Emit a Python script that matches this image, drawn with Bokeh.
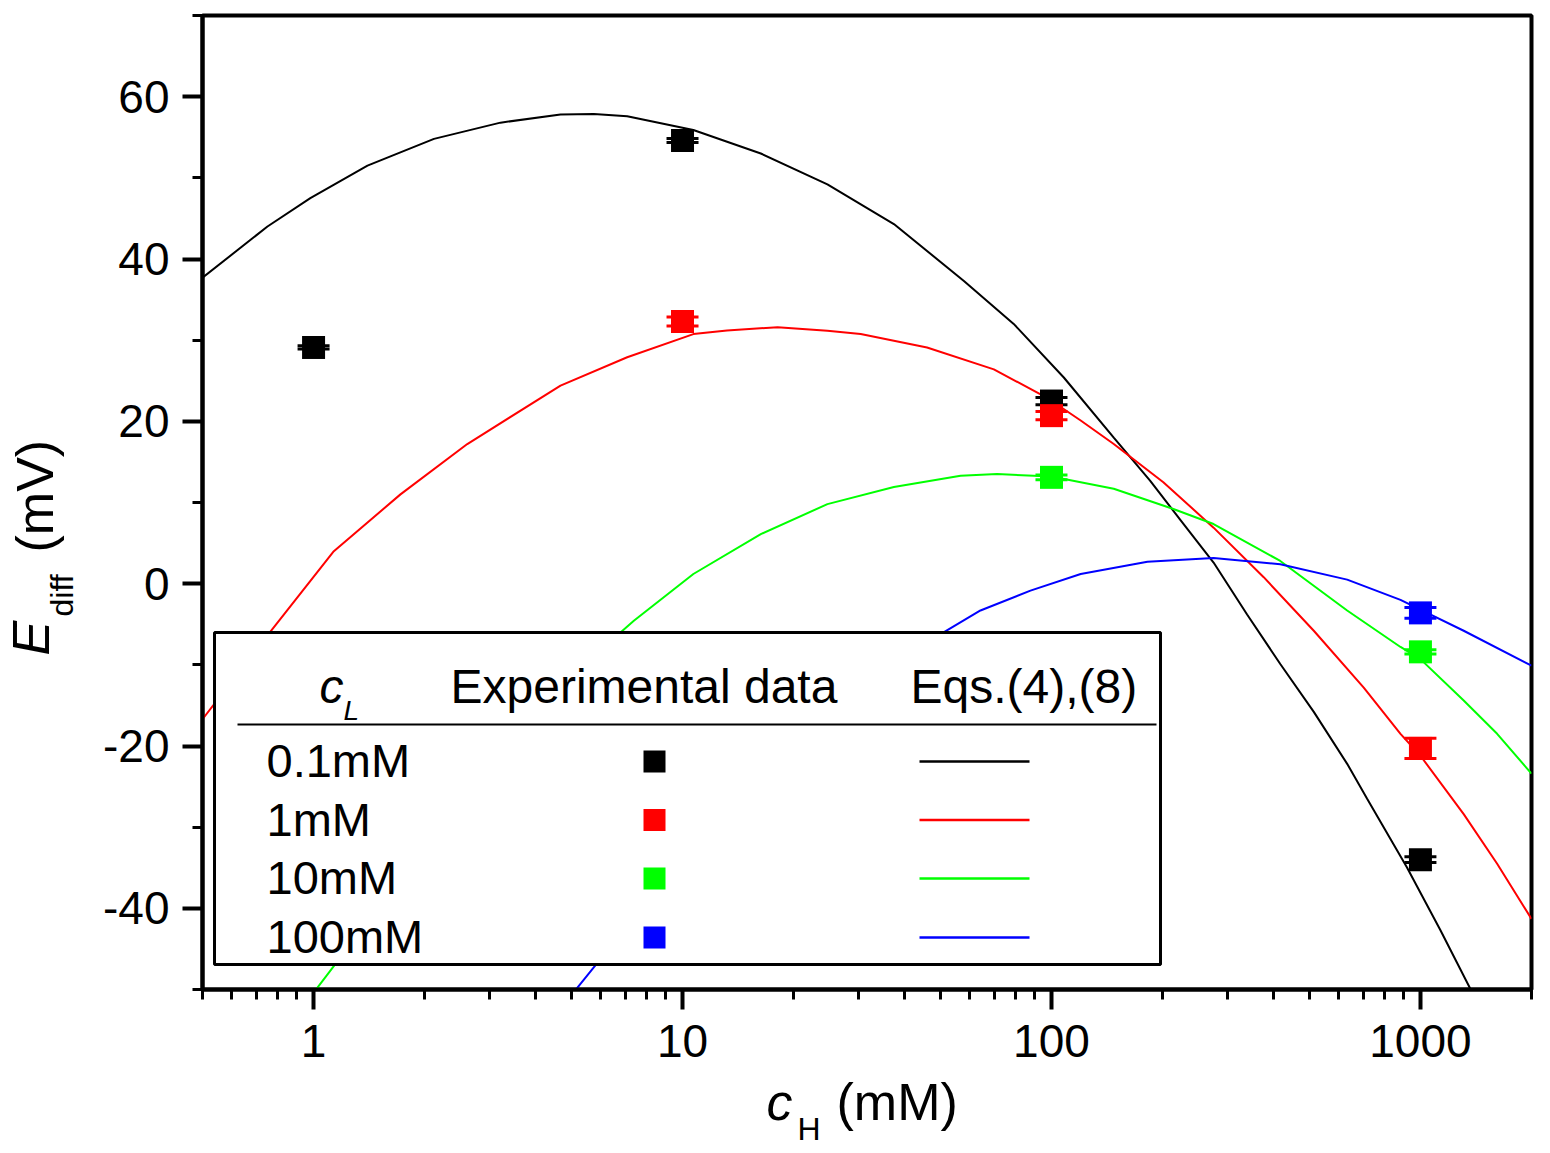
from math import pi

from bokeh.embed import file_html
from bokeh.layouts import column, row
from bokeh.models import (BoxAnnotation, ColumnDataSource, FixedTicker, Label,
                          Range1d, TeeHead, Whisker)
from bokeh.plotting import figure
from bokeh.resources import INLINE

# ---- experimental data (c_H in mM, E_diff in mV, error) ----
black_pts_x = [1, 10, 100, 1000]
black_pts_y = [29.1, 54.6, 22.5, -34.0]
black_pts_err = [0.2, 0.25, 0.45, 0.35]

red_pts_x = [10, 100, 1000]
red_pts_y = [32.3, 20.7, -20.3]
red_pts_err = [0.55, 0.5, 1.25]

green_pts_x = [100, 1000]
green_pts_y = [13.1, -8.4]
green_pts_err = [0.3, 0.25]

blue_pts_x = [1000]
blue_pts_y = [-3.6]
blue_pts_err = [0.65]

# ---- model curves, Eqs.(4),(8) ----
black_curve_x = [0.5, 0.75, 0.98, 1.4, 2.12, 3.21, 4.67, 5.75, 7.08, 10.7, 16.3, 24.7,
                 37.4, 57.9, 79, 108, 147.5, 185, 224, 275, 339, 417, 514, 633, 717,
                 918, 1133, 1365]
black_curve_y = [37.7, 44.0, 47.5, 51.5, 54.8, 56.8, 57.8, 57.85, 57.6, 55.9, 53.0, 49.2,
                 44.3, 37.3, 32.0, 25.4, 18.0, 12.7, 7.8, 2.6, -3.8, -9.9, -15.8, -22.2,
                 -26.5, -34.9, -42.7, -49.9]

red_curve_x = [0.5, 0.764, 1.135, 1.72, 2.61, 4.67, 7.08, 10.7, 13.2, 18.1, 24.7, 30.4,
               46.0, 69.8, 97.3, 120, 147.5, 201, 275, 376, 514, 702, 883, 1000, 1310,
               1614, 2000]
red_curve_y = [-16.7, -5.9, 4.0, 11.0, 17.2, 24.4, 27.9, 30.75, 31.2, 31.6, 31.15, 30.75,
               29.1, 26.4, 22.9, 20.1, 17.2, 12.5, 6.9, 0.8, -5.8, -12.8, -18.5, -21.2,
               -28.4, -34.5, -41.3]

green_curve_x = [1.0, 1.14, 2.0, 3.5, 5.0, 7.38, 10.7, 16.3, 24.7, 37.4, 56.7, 71.2, 100,
                 147.5, 214, 275, 417, 633, 883, 1000, 1310, 1614, 2000]
green_curve_y = [-50.4, -47.0, -32.0, -19.0, -11.3, -4.56, 1.19, 6.1, 9.8, 11.9, 13.3,
                 13.5, 13.2, 11.7, 9.2, 7.35, 2.8, -3.3, -7.8, -9.3, -14.4, -18.5, -23.4]

blue_curve_x = [5.1, 5.74, 10, 20, 35, 51, 64.2, 87.7, 120, 182, 275, 417, 633, 883,
                1000, 1310, 2000]
blue_curve_y = [-50.2, -47.3, -34.0, -20.5, -11.5, -6.0, -3.3, -0.86, 1.19, 2.7, 3.16,
                2.4, 0.5, -2.0, -3.2, -5.8, -10.1]

series_names = ["0.1mM", "1mM", "10mM", "100mM"]
colors = ["black", "#ff0000", "#00ff00", "#0000ff"]

x_major = [1, 10, 100, 1000]
x_minor = [0.5, 0.6, 0.7, 0.8, 0.9] + [m * d for d in (1, 10, 100) for m in range(2, 10)] + [2000]
y_major = [-40, -20, 0, 20, 40, 60]
y_minor = [-50, -30, -10, 10, 30, 50, 70]

FONT = "Liberation Sans"
BASE_SHIFT = 0.36  # Bokeh puts a label's box bottom (not its baseline) at y

YLAB_W = 90
P_LEFT, P_TOP, P_BOTTOM = 112, 15, 79
P_H = P_TOP + 974 + P_BOTTOM
TOTAL_H = 1152

p = figure(x_axis_type="log", x_range=Range1d(0.5, 2000), y_range=Range1d(-50, 70),
           frame_width=1329, frame_height=974,
           min_border_left=P_LEFT, min_border_right=17, min_border_top=P_TOP,
           min_border_bottom=P_BOTTOM, output_backend="svg", toolbar_location=None)
p.grid.visible = False
p.outline_line_color = "black"
p.outline_line_width = 4

for ax in (p.xaxis[0], p.yaxis[0]):
    ax.axis_line_width = 4
    ax.major_tick_line_width = 4
    ax.minor_tick_line_width = 3
    ax.major_tick_in = 0
    ax.major_tick_out = 20
    ax.minor_tick_in = 0
    ax.minor_tick_out = 10
    ax.major_label_text_font = FONT
    ax.major_label_text_font_size = "46px"
    ax.major_label_text_color = "black"

p.xaxis.ticker = FixedTicker(ticks=x_major, minor_ticks=x_minor)
p.xaxis.major_label_overrides = {t: str(t) for t in x_major}
p.xaxis.major_label_standoff = 15
p.yaxis.ticker = FixedTicker(ticks=y_major, minor_ticks=y_minor)
p.yaxis.major_label_overrides = {t: str(t) for t in y_major}
p.yaxis.major_label_standoff = 13

curves = [(black_curve_x, black_curve_y), (red_curve_x, red_curve_y),
          (green_curve_x, green_curve_y), (blue_curve_x, blue_curve_y)]
points = [(black_pts_x, black_pts_y, black_pts_err), (red_pts_x, red_pts_y, red_pts_err),
          (green_pts_x, green_pts_y, green_pts_err), (blue_pts_x, blue_pts_y, blue_pts_err)]

for (cx, cy), col in zip(curves, colors):
    p.line(cx, cy, line_color=col, line_width=2)

for (px, py, pe), col in zip(points, colors):
    src = ColumnDataSource(data=dict(x=px, y=py,
                                     upper=[v + e for v, e in zip(py, pe)],
                                     lower=[v - e for v, e in zip(py, pe)]))
    p.add_layout(Whisker(source=src, base="x", upper="upper", lower="lower",
                         line_color=col, line_width=2,
                         upper_head=TeeHead(size=32, line_color=col, line_width=3),
                         lower_head=TeeHead(size=32, line_color=col, line_width=3)))
    p.scatter("x", "y", source=src, marker="square", size=23,
              fill_color=col, line_color=col, line_width=0)

# page pixel -> screen units relative to the main frame (bottom-left, y up)
FL = YLAB_W + P_LEFT
FB = P_TOP + 974


def text_on(fig, t, x, y, size, style="normal", angle=0.0):
    fig.add_layout(Label(x=x, y=y, x_units="screen", y_units="screen", text=t,
                         text_font=FONT, text_font_size=f"{size}px", text_font_style=style,
                         text_color="black", text_baseline="alphabetic", text_align="left",
                         angle=angle))


def text(t, x, y, size, style="normal"):
    text_on(p, t, x - FL, FB - (y - BASE_SHIFT * size), size, style)


def box(l, r, t, b, fill, line=None, lw=0):
    p.add_layout(BoxAnnotation(left=l - FL, right=r - FL, top=FB - t, bottom=FB - b,
                               left_units="screen", right_units="screen",
                               top_units="screen", bottom_units="screen",
                               fill_color=fill, fill_alpha=1.0,
                               line_color=line, line_width=lw,
                               line_alpha=1.0 if line else 0.0))


# legend table
box(214, 1160, 632, 964, "white", "black", 3)
text("c", 319, 703, 48, "italic")
text("L", 343, 720, 28, "italic")
text("Experimental data", 450, 703, 48)
text("Eqs.(4),(8)", 910, 703, 48)
box(237, 1156, 723, 725, "black")

row_y = [761, 819.5, 878, 937]
for name, col, ry in zip(series_names, colors, row_y):
    text(name, 266, ry + 16, 47)
    box(643, 665, ry - 11, ry + 11, col)
    box(919, 1029, ry - 1.2, ry + 1.2, col)


def label_fig(w, h):
    f = figure(width=w, height=h, x_range=Range1d(0, w), y_range=Range1d(0, h),
               min_border=0, x_axis_location=None, y_axis_location=None,
               output_backend="svg", toolbar_location=None)
    f.grid.visible = False
    f.outline_line_color = None
    return f


# y axis title: E_diff (mV), rotated, in its own strip left of the plot
ylab = label_fig(YLAB_W, TOTAL_H)
for t, bx, by, size, style in [("E", 49, 655, 52, "italic"),
                               ("diff", 73, 616, 32, "normal"),
                               ("(mV)", 53, 552, 52, "normal")]:
    text_on(ylab, t, bx - BASE_SHIFT * size, TOTAL_H - by, size, style, pi / 2)

# x axis title: c_H (mM), in its own strip under the plot
# (the column lines this strip's frame up with the main frame, so x is taken from FL)
XLAB_H = TOTAL_H - P_H
xlab = label_fig(P_LEFT + 1329 + 17, XLAB_H)
for t, bx, by, size, style in [("c", 766, 1120, 52, "italic"),
                               ("H", 797, 1140, 32, "normal"),
                               ("(mM)", 836, 1120, 52, "normal")]:
    text_on(xlab, t, bx - FL, TOTAL_H - (by - BASE_SHIFT * size), size, style)

layout = row(ylab, column(p, xlab))
open("out.html", "w").write(file_html(layout, INLINE))
